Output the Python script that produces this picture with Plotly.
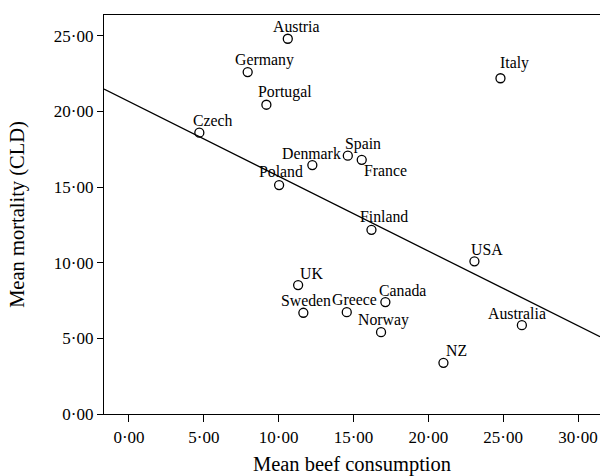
import plotly.graph_objects as go

countries = ["Austria", "Germany", "Portugal", "Czech", "Poland", "Denmark", "Spain",
             "France", "Italy", "Finland", "USA", "UK", "Sweden", "Greece", "Canada",
             "Norway", "Australia", "NZ"]
beef = [10.61, 7.93, 9.18, 4.70, 10.03, 12.25, 14.62, 15.55, 24.82, 16.20, 23.08,
        11.30, 11.65, 14.55, 17.13, 16.84, 26.25, 21.01]
mortality = [24.80, 22.60, 20.44, 18.59, 15.13, 16.45, 17.07, 16.80, 22.19, 12.17,
             10.09, 8.52, 6.69, 6.73, 7.40, 5.41, 5.87, 3.38]

fit_intercept = 20.65
fit_slope = -0.494

x_tickvals = [0, 5, 10, 15, 20, 25, 30]
x_ticktext = ["0·00", "5·00", "10·00", "15·00", "20·00", "25·00", "30·00"]
y_tickvals = [0, 5, 10, 15, 20, 25]
y_ticktext = ["0·00", "5·00", "10·00", "15·00", "20·00", "25·00"]

x_range = [-1.67, 31.47]
y_range = [0, 26.37]

# label offsets in pixels (style)
label_offsets = {
    "Austria": (9, 12), "Germany": (17, 12), "Portugal": (19, 13), "Czech": (14, 12),
    "Poland": (2, 14), "Denmark": (-1, 12), "Spain": (15, 12), "France": (24, -11),
    "Italy": (14, 15), "Finland": (13, 13), "USA": (13, 12), "UK": (13, 12),
    "Sweden": (3, 12), "Greece": (8, 13), "Canada": (17, 12), "Norway": (2, 12),
    "Australia": (-5, 12), "NZ": (13, 12),
}

FONT = "Liberation Serif, Times New Roman, serif"

fig = go.Figure()
line_x = list(x_range)
line_y = [fit_intercept + fit_slope * v for v in line_x]
fig.add_trace(go.Scatter(x=line_x, y=line_y, mode="lines",
                         line=dict(color="black", width=1.3), hoverinfo="skip",
                         showlegend=False))
fig.add_trace(go.Scatter(x=beef, y=mortality, mode="markers",
                         marker=dict(symbol="circle-open", size=9,
                                     color="black", line=dict(width=1.3)),
                         text=countries, showlegend=False, cliponaxis=False))

for c, xv, yv in zip(countries, beef, mortality):
    dx, dy = label_offsets[c]
    fig.add_annotation(x=xv, y=yv, text=c, showarrow=False, xshift=dx, yshift=dy,
                       font=dict(family=FONT, size=15.8, color="black"))

fig.update_layout(
    width=600, height=476,
    margin=dict(l=104, r=0, t=15, b=62, autoexpand=False),
    paper_bgcolor="white", plot_bgcolor="white",
    font=dict(family=FONT, color="black"),
    xaxis=dict(range=x_range, tickvals=x_tickvals, ticktext=x_ticktext,
               automargin=False,
               showgrid=False, zeroline=False, showline=True, mirror=True,
               linecolor="black", linewidth=1.3, ticks="outside", ticklen=7,
               tickcolor="black", tickwidth=1.3,
               tickfont=dict(family=FONT, size=17, color="black"),
               title=dict(text="Mean beef consumption", standoff=13,
                          font=dict(family=FONT, size=20.5, color="black"))),
    yaxis=dict(range=y_range, tickvals=y_tickvals, ticktext=y_ticktext,
               automargin=False,
               showgrid=False, zeroline=False, showline=True,
               linecolor="black", linewidth=1.3, ticks="outside", ticklen=6,
               tickcolor="black", tickwidth=1.3,
               tickfont=dict(family=FONT, size=17, color="black"),
               title=dict(text="Mean mortality (CLD)", standoff=23,
                          font=dict(family=FONT, size=20.5, color="black"))),
)

fig.write_html("out.html", config={"displayModeBar": False},
               post_script="document.body.style.margin='0';document.body.style.overflow='hidden';")
